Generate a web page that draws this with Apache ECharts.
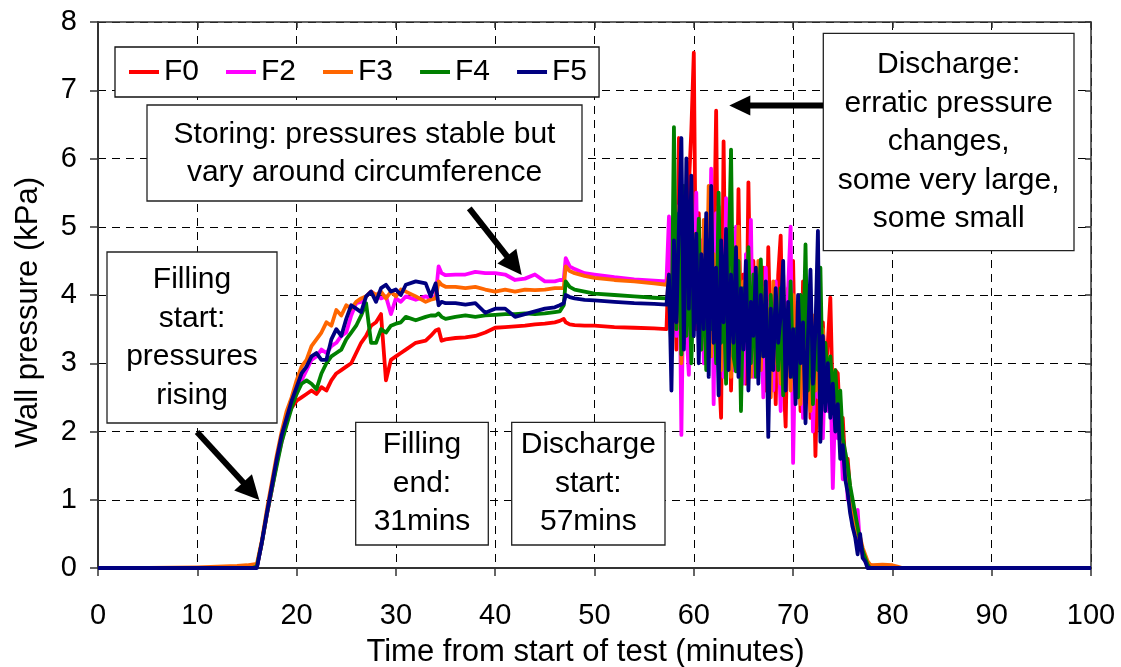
<!DOCTYPE html>
<html>
<head>
<meta charset="utf-8">
<script src="https://cdn.jsdelivr.net/npm/echarts@6/dist/echarts.min.js"></script>
<style>
html,body{margin:0;padding:0;background:#fff;}
#chart{width:1121px;height:667px;}
</style>
</head>
<body>
<div id="chart"></div>
<script>
// ---- DATA ----
const seriesNames = ['F0', 'F2', 'F3', 'F4', 'F5'];
const xTicks = [0, 10, 20, 30, 40, 50, 60, 70, 80, 90, 100];
const yTicks = [0, 1, 2, 3, 4, 5, 6, 7, 8];

// time (minutes) of each sample
const times = [
  0, 5, 10, 12, 14, 15, 15.5, 16,
  16.5, 17, 17.5, 18, 18.5, 19, 19.5, 20, 20.5, 21, 21.5, 22, 22.5, 23, 23.5, 24, 24.5, 25, 25.5, 26, 26.5, 27, 27.5, 28, 28.5, 29, 29.5, 30, 30.5, 31,
  32, 33, 33.5, 34, 34.3, 34.6, 35, 36, 37, 38, 39, 40, 41, 42, 43, 44, 45, 46, 46.5, 46.9, 47.1, 47.5, 48, 49, 50, 52, 54, 56, 57.25,
  57.5, 57.75, 58, 58.25, 58.5, 58.75, 59, 59.25, 59.5, 59.75, 60, 60.25, 60.5, 60.75, 61, 61.25, 61.5, 61.75, 62, 62.25,
  62.5, 62.75, 63, 63.25, 63.5, 63.75, 64, 64.25, 64.5, 64.75, 65, 65.25, 65.5, 65.75, 66, 66.25, 66.5, 66.75, 67, 67.25,
  67.5, 67.75, 68, 68.25, 68.5, 68.75, 69, 69.25, 69.5, 69.75, 70, 70.25, 70.5, 70.75, 71, 71.25, 71.5, 71.75, 72, 72.25,
  72.5, 72.75, 73, 73.25, 73.5, 73.75, 74, 74.25, 74.5, 74.75, 75, 75.25, 75.5, 75.75, 76, 76.25, 76.5, 76.75, 77, 77.25,
  77.5, 77.75,
  78, 79, 80, 80.5, 81, 90, 100
];

const f0 = [
  0, 0, 0, 0, 0, 0, 0, 0.02,
  0.37, 0.78, 1.15, 1.55, 1.9, 2.2, 2.35, 2.45, 2.5, 2.55, 2.6, 2.55, 2.65, 2.6, 2.75, 2.85, 2.9, 2.95, 3.0, 3.15, 3.3, 3.4, 3.55, 3.6, 3.72, 2.75, 3.05, 3.1, 3.15, 3.2,
  3.3, 3.33, 3.4, 3.48, 3.5, 3.33, 3.35, 3.37, 3.38, 3.4, 3.45, 3.52, 3.53, 3.54, 3.55, 3.57, 3.58, 3.6, 3.62, 3.65, 3.6, 3.57, 3.56, 3.55, 3.55, 3.53, 3.52, 3.51, 3.5,
  4.6, 3.5, 5.2, 3.2, 6.3, 3.8, 5.0, 3.3, 5.6, 6.4, 7.55, 3.5, 5.2, 3.6, 4.8, 3.0, 5.1, 3.4, 4.4, 6.7,
  3.0, 2.2, 6.25, 3.2, 4.6, 2.6, 4.2, 3.0, 5.55, 3.3, 4.3, 2.7, 5.65, 3.4, 4.5, 2.9, 4.2, 3.1, 4.4, 2.6,
  4.7, 3.2, 3.9, 2.4, 4.3, 4.87, 2.9, 2.07, 4.1, 3.0, 4.5, 2.5, 3.8, 2.3, 4.2, 3.0, 3.7, 2.2, 3.5, 1.64,
  3.2, 2.0, 3.6, 2.6, 3.3, 3.96, 2.4, 2.9, 2.85, 2.0, 2.2, 1.5, 1.6, 1.1, 0.9, 0.7, 0.55, 0.35, 0.25, 0.15,
  0.05, 0.0,
  0, 0, 0, 0, 0, 0, 0
];

const f2 = [
  0, 0, 0, 0, 0, 0, 0, 0.02,
  0.38, 0.78, 1.15, 1.55, 1.85, 2.15, 2.4, 2.55, 2.75, 2.9, 3.05, 3.1, 3.2, 3.15, 3.25, 3.3, 3.4, 3.45, 3.7, 3.88, 3.9, 3.98, 4.05, 4.0, 3.95, 3.98, 3.72, 3.95, 3.9, 3.98,
  3.93, 3.98, 3.95, 3.98, 4.42, 4.32, 4.29, 4.3, 4.3, 4.34, 4.32, 4.32, 4.3, 4.22, 4.24, 4.3, 4.2, 4.2, 4.22, 4.22, 4.54, 4.42, 4.38, 4.32, 4.3, 4.26, 4.23, 4.21, 4.2,
  5.15, 3.8, 4.9, 3.4, 5.3, 1.95, 4.7, 3.5, 2.83, 5.2, 4.0, 5.5, 3.3, 4.8, 3.0, 5.0, 3.6, 5.85, 2.4, 5.2,
  3.3, 4.6, 2.8, 5.42, 3.1, 4.4, 2.9, 5.0, 3.5, 4.1, 2.7, 4.6, 3.2, 5.1, 2.8, 4.3, 3.3, 4.0, 2.5, 4.4,
  3.0, 3.9, 2.6, 4.2, 3.4, 2.3, 3.8, 2.9, 4.1, 5.0, 1.54, 3.6, 2.6, 4.0, 2.2, 3.5, 2.8, 3.9, 2.0, 3.3,
  2.5, 3.6, 1.9, 3.1, 2.3, 2.9, 1.17, 2.5, 1.9, 2.2, 1.3, 1.7, 1.0, 1.1, 0.6, 0.5, 0.85, 0.3, 0.2, 0.1,
  0.05, 0.0,
  0, 0, 0, 0, 0, 0, 0
];

const f3 = [
  0, 0, 0.01, 0.02, 0.03, 0.04, 0.05, 0.06,
  0.4, 0.85, 1.25, 1.65, 2.0, 2.3, 2.5, 2.75, 2.95, 3.05, 3.25, 3.35, 3.45, 3.6, 3.55, 3.78, 3.7, 3.85, 3.8, 3.9, 3.95, 3.98, 4.05, 4.0, 4.05, 3.95, 4.05, 3.98, 4.08, 4.05,
  3.98, 3.9, 3.93, 3.95, 4.2, 4.15, 4.12, 4.12, 4.1, 4.12, 4.08, 4.05, 4.08, 4.05, 4.08, 4.07, 4.08, 4.1, 4.1, 4.1, 4.42, 4.35, 4.32, 4.28, 4.25, 4.22, 4.2, 4.17, 4.15,
  4.3, 3.6, 4.8, 3.5, 5.3, 3.0, 4.4, 3.6, 5.0, 3.4, 4.9, 3.9, 4.4, 3.2, 5.1, 3.7, 5.6, 3.1, 4.6, 3.4,
  5.3, 2.9, 4.5, 3.3, 4.1, 2.8, 4.7, 3.5, 5.0, 3.0, 4.2, 3.4, 4.6, 2.8, 4.0, 3.2, 4.5, 2.9, 4.1, 3.3,
  3.8, 2.5, 4.2, 3.0, 3.6, 2.7, 4.3, 3.1, 3.7, 2.6, 4.0, 2.9, 3.5, 2.4, 3.8, 3.0, 3.4, 2.3, 3.7, 2.6,
  3.3, 2.1, 3.5, 2.7, 3.1, 2.4, 2.9, 2.2, 2.6, 1.9, 1.9, 1.5, 1.4, 1.0, 0.9, 0.6, 0.5, 0.45, 0.3, 0.2,
  0.1, 0.05,
  0.04, 0.05, 0.04, 0.02, 0, 0, 0
];

const f4 = [
  0, 0, 0, 0, 0, 0, 0, 0.02,
  0.37, 0.78, 1.15, 1.5, 1.85, 2.1, 2.35, 2.55, 2.7, 2.75, 2.7, 2.62, 2.85, 3.0, 3.1, 3.15, 3.2, 3.35, 3.45, 3.55, 3.7, 3.88, 3.3, 3.3, 3.5, 3.45, 3.55, 3.58, 3.6, 3.68,
  3.63, 3.68, 3.7, 3.7, 3.73, 3.68, 3.65, 3.68, 3.7, 3.68, 3.7, 3.71, 3.72, 3.72, 3.73, 3.72, 3.73, 3.75, 3.76, 3.85, 4.2, 4.12, 4.08, 4.05, 4.02, 4.0, 3.98, 3.96, 3.95,
  4.0, 3.2, 6.46, 3.5, 5.2, 3.13, 5.6, 3.4, 4.6, 3.0, 4.3, 3.6, 5.12, 3.2, 4.5, 2.9, 4.8, 3.5, 4.2, 3.0,
  5.5, 3.3, 4.0, 2.7, 4.4, 6.13, 3.1, 2.88, 4.5, 2.3, 4.1, 3.4, 4.7, 3.0, 4.3, 2.8, 3.9, 4.52, 3.1, 3.7,
  2.7, 4.0, 3.2, 3.8, 2.9, 4.1, 2.53, 3.6, 3.0, 4.2, 2.8, 3.5, 2.5, 4.0, 3.1, 4.74, 2.6, 3.8, 2.4, 3.4,
  2.9, 4.4, 2.5, 3.3, 2.7, 3.1, 2.5, 2.9, 2.3, 2.6, 1.9, 1.7, 1.5, 1.2, 1.0, 0.8, 0.6, 0.4, 0.25, 0.15,
  0.05, 0.0,
  0, 0, 0, 0, 0, 0, 0
];

const f5 = [
  0, 0, 0, 0, 0, 0, 0, 0,
  0.38, 0.8, 1.2, 1.6, 1.95, 2.2, 2.45, 2.65, 2.85, 2.95, 3.1, 3.15, 3.05, 3.05, 3.35, 3.5, 3.4, 3.65, 3.85, 3.8, 3.75, 3.98, 4.05, 3.9, 4.1, 4.15, 4.05, 4.08, 4.0, 4.15,
  4.2, 4.17, 3.98, 4.17, 3.85, 3.9, 3.88, 3.88, 3.86, 3.88, 3.74, 3.8, 3.8, 3.68, 3.72, 3.76, 3.8, 3.82, 3.85, 3.88, 4.0, 3.97, 3.95, 3.93, 3.92, 3.9, 3.88, 3.87, 3.86,
  4.3, 2.6, 4.8, 3.6, 5.0, 6.3, 3.2, 6.0, 3.8, 5.75, 3.4, 4.9, 3.0, 4.6, 3.5, 5.2, 2.8, 5.6, 3.3, 4.4,
  2.53, 4.8, 3.6, 4.97, 2.9, 4.3, 3.3, 4.7, 2.8, 4.1, 3.2, 4.5, 2.6, 3.9, 3.4, 4.4, 2.7, 4.0, 3.1, 4.2,
  1.92, 3.8, 2.9, 4.1, 3.3, 3.7, 4.5, 2.6, 3.9, 2.8, 3.5, 2.4, 4.0, 3.0, 3.6, 2.12, 3.4, 4.37, 2.7, 3.5,
  4.94, 1.85, 3.4, 2.3, 3.0, 2.2, 2.7, 2.0, 2.4, 1.6, 1.8, 1.3, 1.1, 0.8, 0.6, 0.45, 0.2, 0.5, 0.15, 0.1,
  0.0, 0.0,
  0, 0, 0, 0, 0, 0, 0
];

const seriesValues = [f0, f2, f3, f4, f5];
const seriesColors = ['#FF0000', '#FF00FF', '#FF6600', '#008000', '#000080'];

// ---- CHART ----
const FONT = '"Liberation Sans", Arial, sans-serif';
const chart = echarts.init(document.getElementById('chart'), null, {renderer: 'canvas'});

function pairs(vals) {
  return times.map((t, i) => [t, vals[i]]);
}

function box(x, y, w, h, lines, cx, cy) {
  return {
    type: 'group', z: 100,
    children: [
      {type: 'rect', shape: {x: x, y: y, width: w, height: h},
       style: {fill: '#fff', stroke: '#222', lineWidth: 1.3}, z: 100},
      {type: 'text', x: cx, y: cy, z: 101,
       style: {text: lines.join('\n'), fontSize: 30, fontFamily: FONT, fill: '#000',
               align: 'center', verticalAlign: 'middle', lineHeight: 38.5}}
    ]
  };
}

function arrow(x1, y1, x2, y2, headLen, headHalf, width) {
  const dx = x2 - x1, dy = y2 - y1;
  const len = Math.sqrt(dx * dx + dy * dy);
  const ux = dx / len, uy = dy / len;
  const px = -uy, py = ux;
  const bx = x2 - ux * headLen, by = y2 - uy * headLen;
  return {
    type: 'group', z: 100,
    children: [
      {type: 'line', z: 100, shape: {x1: x1, y1: y1, x2: bx + ux * 2, y2: by + uy * 2},
       style: {stroke: '#000', lineWidth: width, lineCap: 'butt'}},
      {type: 'polygon', z: 100, shape: {points: [[x2, y2], [bx + px * headHalf, by + py * headHalf], [bx - px * headHalf, by - py * headHalf]]},
       style: {fill: '#000'}}
    ]
  };
}

const option = {
  animation: false,
  backgroundColor: '#fff',
  textStyle: {fontFamily: FONT},
  grid: {left: 98, right: 30, top: 22, bottom: 99, containLabel: false},
  legend: {
    data: seriesNames, left: 115, top: 47, orient: 'horizontal',
    padding: [10, 12, 10, 14], itemGap: 27, itemWidth: 30, itemHeight: 4, icon: 'rect',
    textStyle: {fontSize: 30, color: '#000', fontFamily: FONT},
    backgroundColor: '#fff', borderColor: '#111', borderWidth: 1.3, z: 50
  },
  xAxis: [
    {type: 'value', min: xTicks[0], max: xTicks[xTicks.length - 1], interval: 10, position: 'bottom',
     axisLine: {show: true, onZero: false, lineStyle: {color: '#333', width: 2}},
     axisTick: {show: true, inside: false, length: 8, lineStyle: {color: '#333', width: 1.5}},
     axisLabel: {fontSize: 29, color: '#000', margin: 33, fontFamily: FONT},
     splitLine: {show: true, lineStyle: {color: '#000', width: 1, type: [8, 6]}}},
    {type: 'value', min: xTicks[0], max: xTicks[xTicks.length - 1], interval: 10, position: 'top',
     axisLine: {show: true, onZero: false, lineStyle: {color: '#333', width: 1.5}},
     axisTick: {show: true, inside: true, length: 6, lineStyle: {color: '#333', width: 1.5}},
     axisLabel: {show: false}, splitLine: {show: false}}
  ],
  yAxis: [
    {type: 'value', min: yTicks[0], max: yTicks[yTicks.length - 1], interval: 1, position: 'left',
     axisLine: {show: true, onZero: false, lineStyle: {color: '#333', width: 2}},
     axisTick: {show: true, inside: false, length: 8, lineStyle: {color: '#333', width: 1.5}},
     axisLabel: {fontSize: 29, color: '#000', margin: 21, fontFamily: FONT},
     splitLine: {show: true, lineStyle: {color: '#000', width: 1, type: [8, 6]}}},
    {type: 'value', min: yTicks[0], max: yTicks[yTicks.length - 1], interval: 1, position: 'right',
     axisLine: {show: true, onZero: false, lineStyle: {color: '#333', width: 1.5}},
     axisTick: {show: true, inside: true, length: 6, lineStyle: {color: '#333', width: 1.5}},
     axisLabel: {show: false}, splitLine: {show: false}}
  ],
  series: seriesNames.map((name, k) => ({
    name: name, type: 'line', xAxisIndex: 0, yAxisIndex: 0,
    data: pairs(seriesValues[k]), showSymbol: false, symbol: 'none',
    lineStyle: {color: seriesColors[k], width: 3.8, join: 'round'},
    itemStyle: {color: seriesColors[k]},
    z: 2 + k
  })),
  graphic: [
    {type: 'text', x: 585.5, y: 652, z: 100,
     style: {text: 'Time from start of test (minutes)', fontSize: 31, fontFamily: FONT, fill: '#000',
             align: 'center', verticalAlign: 'middle'}},
    {type: 'text', x: 28, y: 312.5, rotation: Math.PI / 2, z: 100,
     style: {text: 'Wall pressure (kPa)', fontSize: 31, fontFamily: FONT, fill: '#000',
             align: 'center', verticalAlign: 'middle'}},
    box(107, 252, 170, 171, ['Filling', 'start:', 'pressures', 'rising'], 192, 337.5),
    box(147, 105, 435, 96, ['Storing: pressures stable but', 'vary around circumference'], 364.5, 153.5),
    box(355.7, 422.3, 132.6, 122.7, ['Filling', 'end:', '31mins'], 422, 483.7),
    box(511.7, 422.3, 153.3, 122.7, ['Discharge', 'start:', '57mins'], 588.3, 483.7),
    box(823.3, 33.3, 250.7, 217.4, ['Discharge:', 'erratic pressure', 'changes,', 'some very large,', 'some small'], 948.7, 142),
    arrow(197, 432, 259.3, 500, 24, 12, 6),
    arrow(469.3, 208.3, 521.7, 275, 24, 12, 6),
    arrow(823, 105.5, 729.3, 105.5, 21, 10, 6)
  ]
};
chart.setOption(option);
</script>
</body>
</html>
